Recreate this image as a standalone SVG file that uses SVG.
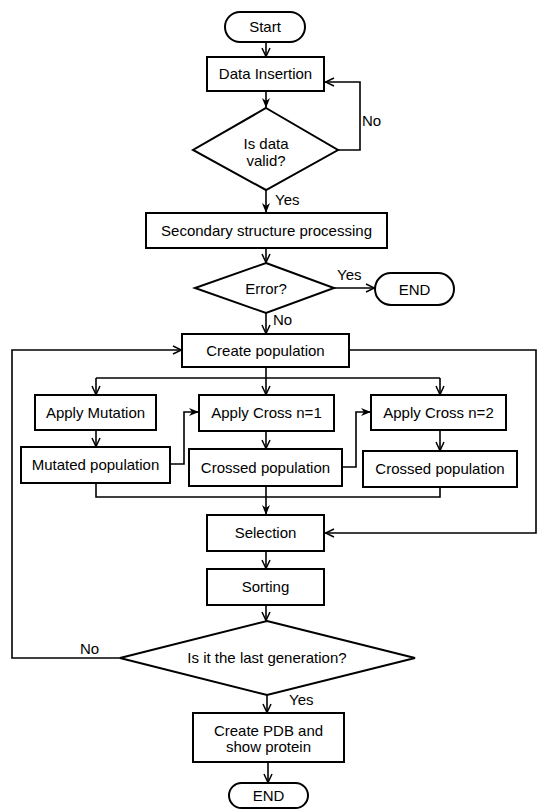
<svg xmlns="http://www.w3.org/2000/svg" width="537" height="809" viewBox="0 0 537 809">
<style>
.box{fill:#fff;stroke:#000;stroke-width:2}
.ln{fill:none;stroke:#000;stroke-width:1.6}
.t{font-family:"Liberation Sans",Arial,sans-serif;font-size:15px;fill:#000;text-anchor:middle}
.l{font-family:"Liberation Sans",Arial,sans-serif;font-size:15px;fill:#000}
</style>
<defs>
<marker id="op" viewBox="0 0 10 10" refX="10" refY="5" markerWidth="10" markerHeight="10" markerUnits="userSpaceOnUse" orient="auto"><path d="M1,1 L9.5,5 L1,9" fill="none" stroke="#000" stroke-width="1.5"/></marker>
<marker id="fl" viewBox="0 0 10 10" refX="10" refY="5" markerWidth="10" markerHeight="10" markerUnits="userSpaceOnUse" orient="auto"><path d="M0,1 L10,5 L0,9 L3,5 Z" fill="#000"/></marker>
</defs>
<rect width="537" height="809" fill="#fff"/>
<g id="connectors">
<line class="ln" x1="266" y1="42" x2="266" y2="57" marker-end="url(#op)"/>
<line class="ln" x1="266" y1="91" x2="266" y2="108" marker-end="url(#fl)"/>
<polyline class="ln" points="338,150 360,150 360,82 325,82" marker-end="url(#op)"/>
<line class="ln" x1="266" y1="190" x2="266" y2="213" marker-end="url(#fl)"/>
<line class="ln" x1="266" y1="248" x2="266" y2="263" marker-end="url(#op)"/>
<line class="ln" x1="334" y1="288" x2="375" y2="288" marker-end="url(#op)"/>
<line class="ln" x1="266" y1="313" x2="266" y2="334" marker-end="url(#op)"/>
<polyline class="ln" points="349,350 536,350 536,533 325,533" marker-end="url(#op)"/>
<line class="ln" x1="266" y1="367" x2="266" y2="378"/>
<line class="ln" x1="96" y1="378" x2="440" y2="378"/>
<line class="ln" x1="96" y1="378" x2="96" y2="395" marker-end="url(#op)"/>
<line class="ln" x1="266" y1="378" x2="266" y2="395" marker-end="url(#op)"/>
<line class="ln" x1="440" y1="378" x2="440" y2="395" marker-end="url(#op)"/>
<line class="ln" x1="96" y1="430" x2="96" y2="447" marker-end="url(#op)"/>
<line class="ln" x1="266" y1="431" x2="266" y2="449" marker-end="url(#op)"/>
<line class="ln" x1="440" y1="430" x2="440" y2="451" marker-end="url(#op)"/>
<polyline class="ln" points="170,464 184,464 184,412 199,412" marker-end="url(#fl)"/>
<polyline class="ln" points="342,467 356,467 356,412 371,412" marker-end="url(#fl)"/>
<polyline class="ln" points="96,483 96,497 440,497 440,487"/>
<line class="ln" x1="266" y1="486" x2="266" y2="515" marker-end="url(#fl)"/>
<line class="ln" x1="266" y1="551" x2="266" y2="569" marker-end="url(#op)"/>
<line class="ln" x1="266" y1="605" x2="266" y2="621" marker-end="url(#op)"/>
<polyline class="ln" points="120,658 12,658 12,350 182,350" marker-end="url(#op)"/>
<line class="ln" x1="267" y1="695" x2="267" y2="713" marker-end="url(#op)"/>
<line class="ln" x1="268" y1="762" x2="268" y2="783" marker-end="url(#op)"/>
<text class="l" x="362" y="126">No</text>
<text class="l" x="275" y="205">Yes</text>
<text class="l" x="337" y="280">Yes</text>
<text class="l" x="273" y="325">No</text>
<text class="l" x="80" y="654">No</text>
<text class="l" x="289" y="705">Yes</text>
</g>
<g id="start"><rect class="box" x="225" y="12" width="80" height="30" rx="15"/><text class="t" x="265" y="32">Start</text></g>
<g id="data-insertion"><rect class="box" x="207" y="57" width="117" height="34"/><text class="t" x="265.5" y="79">Data Insertion</text></g>
<g id="is-data-valid"><polygon class="box" points="266,108 338,150 266,190 193,150"/><text class="t" x="266" y="149">Is data</text><text class="t" x="266" y="166">valid?</text></g>
<g id="secondary"><rect class="box" x="146" y="213" width="241" height="35"/><text class="t" x="266.5" y="236">Secondary structure processing</text></g>
<g id="error"><polygon class="box" points="266,263 334,288 266,313 195,288"/><text class="t" x="266" y="294">Error?</text></g>
<g id="end1"><rect class="box" x="375" y="273" width="79" height="32" rx="16"/><text class="t" x="414.5" y="295">END</text></g>
<g id="create-population"><rect class="box" x="182" y="334" width="167" height="33"/><text class="t" x="265.5" y="356">Create population</text></g>
<g id="apply-mutation"><rect class="box" x="35" y="395" width="121" height="35"/><text class="t" x="95.5" y="418">Apply Mutation</text></g>
<g id="apply-cross-1"><rect class="box" x="199" y="395" width="135" height="36"/><text class="t" x="266.5" y="418">Apply Cross n=1</text></g>
<g id="apply-cross-2"><rect class="box" x="371" y="395" width="135" height="35"/><text class="t" x="438.5" y="418">Apply Cross n=2</text></g>
<g id="mutated-population"><rect class="box" x="21" y="447" width="149" height="36"/><text class="t" x="95.5" y="470">Mutated population</text></g>
<g id="crossed-population-1"><rect class="box" x="189" y="449" width="153" height="37"/><text class="t" x="265.5" y="473">Crossed population</text></g>
<g id="crossed-population-2"><rect class="box" x="363" y="451" width="154" height="36"/><text class="t" x="440" y="474">Crossed population</text></g>
<g id="selection"><rect class="box" x="207" y="515" width="117" height="36"/><text class="t" x="265.5" y="538">Selection</text></g>
<g id="sorting"><rect class="box" x="207" y="569" width="117" height="36"/><text class="t" x="265.5" y="592">Sorting</text></g>
<g id="last-generation"><polygon class="box" points="267,621 415,658 267,695 120,658"/><text class="t" x="267" y="663">Is it the last generation?</text></g>
<g id="create-pdb"><rect class="box" x="193" y="713" width="151" height="49"/><text class="t" x="268.5" y="736">Create PDB and</text><text class="t" x="268.5" y="752">show protein</text></g>
<g id="end2"><rect class="box" x="229" y="783" width="79" height="25" rx="12.5"/><text class="t" x="268.5" y="801">END</text></g>
</svg>
